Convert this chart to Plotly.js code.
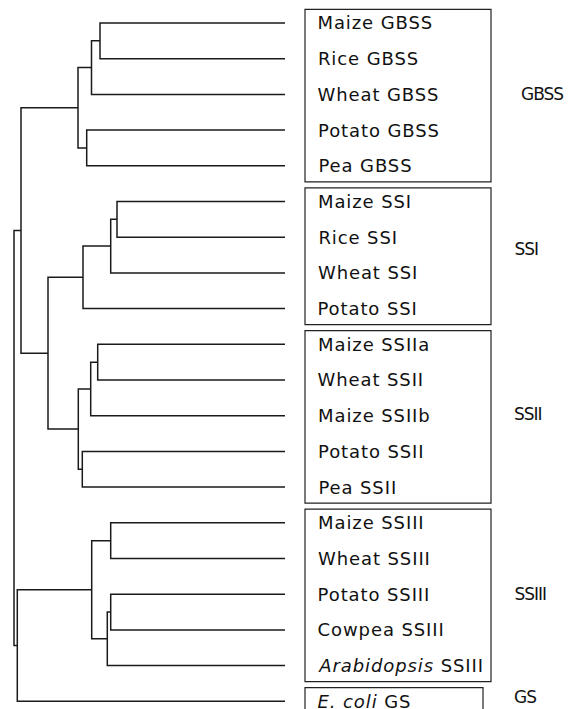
<!DOCTYPE html>
<html>
<head>
<meta charset="utf-8">
<script src="https://cdn.plot.ly/plotly-3.0.1.min.js"></script>
<style>
html,body{margin:0;padding:0;background:#fff;}
g.annotation text.annotation-text{letter-spacing:0.9px;}
g.annotation[data-index="20"] text.annotation-text,
g.annotation[data-index="21"] text.annotation-text,
g.annotation[data-index="22"] text.annotation-text,
g.annotation[data-index="23"] text.annotation-text,
g.annotation[data-index="24"] text.annotation-text{letter-spacing:-1px;}
</style>
</head>
<body>
<div id="chart" style="width:572px;height:709px;"></div>
<script>
// Leaves (top to bottom)
const leaves = [
  'Maize GBSS', 'Rice GBSS', 'Wheat GBSS', 'Potato GBSS', 'Pea GBSS',
  'Maize SSI', 'Rice SSI', 'Wheat SSI', 'Potato SSI',
  'Maize SSIIa', 'Wheat SSII', 'Maize SSIIb', 'Potato SSII', 'Pea SSII',
  'Maize SSIII', 'Wheat SSIII', 'Potato SSIII', 'Cowpea SSIII', '<i>Arabidopsis</i> SSIII',
  '<i>E. coli</i> GS'
];
// Enzyme classes (boxes)
const groupNames = ['GBSS', 'SSI', 'SSII', 'SSIII', 'GS'];
const groupFirst = [0, 5, 9, 14, 19];
const groupLast  = [4, 8, 13, 18, 19];
// Linkage: node 20+k joins mergeLeft[k] and mergeRight[k] at distance mergeHeight[k]
const mergeLeft   = [0, 20, 3, 21, 5, 24, 25, 9, 27, 12, 28, 26, 23, 14, 16, 34, 33, 36, 32];
const mergeRight  = [1, 2, 4, 22, 6, 7, 8, 10, 11, 13, 29, 30, 31, 15, 17, 18, 35, 19, 37];
const mergeHeight = [185, 193.5, 198.3, 207, 168, 174.3, 202, 187.3, 194.3, 202.7, 206.7, 237, 264, 174.3, 174.3, 177.7, 193.3, 267.7, 271];

// Build dendrogram segments
const nodeH = leaves.map(() => 0);
const nodeY = leaves.map((_, i) => i);
const xs = [], ys = [];
for (let k = 0; k < mergeLeft.length; k++) {
  const a = mergeLeft[k], b = mergeRight[k], h = mergeHeight[k];
  const y = (nodeY[a] + nodeY[b]) / 2;
  xs.push(nodeH[a], h, h, nodeH[b], null);
  ys.push(nodeY[a], nodeY[a], nodeY[b], nodeY[b], null);
  nodeH.push(h);
  nodeY.push(y);
}

const W = 572, H = 709;
const px = v => v / W;
const FONT = 'DejaVu Sans';
const groupShift = [0, 6, 2, 0, 4];
const plainLen = s => s.replace(/<[^>]+>/g, '').length;

const annotations = [];
leaves.forEach((name, i) => {
  annotations.push({
    xref: 'paper', yref: 'y', x: px(316), y: i, text: name, showarrow: false,
    xshift: 0.45 * plainLen(name),
    xanchor: 'left', yanchor: 'middle', font: {family: FONT, size: 18, color: '#111'}
  });
});
const shapes = [];
groupNames.forEach((g, j) => {
  annotations.push({
    xref: 'paper', yref: 'y', x: px(j === 0 ? 519 : 512), y: (groupFirst[j] + groupLast[j]) / 2,
    yshift: groupShift[j], xshift: -0.5 * g.length,
    text: g, showarrow: false, xanchor: 'left', yanchor: 'middle',
    font: {family: FONT, size: 17, color: '#111'}
  });
  shapes.push({
    type: 'rect', xref: 'paper', yref: 'y',
    x0: px(305), x1: px(g === 'GS' ? 483 : 491),
    y0: groupFirst[j] - 0.38, y1: groupLast[j] + 0.45,
    line: {color: '#222', width: 1.2}, fillcolor: 'rgba(0,0,0,0)'
  });
});

const data = [{
  type: 'scatter', mode: 'lines', x: xs, y: ys,
  line: {color: '#1a1a1a', width: 1.5}, hoverinfo: 'skip', showlegend: false
}];

const layout = {
  width: W, height: H,
  margin: {l: 0, r: 0, t: 0, b: 0},
  paper_bgcolor: '#fff', plot_bgcolor: '#fff',
  xaxis: {range: [285, -287], visible: false, fixedrange: true},
  yaxis: {range: [19.216, -0.644], visible: false, fixedrange: true},
  annotations: annotations,
  shapes: shapes,
  showlegend: false
};

Plotly.newPlot('chart', data, layout, {staticPlot: true, displayModeBar: false});
</script>
</body>
</html>
